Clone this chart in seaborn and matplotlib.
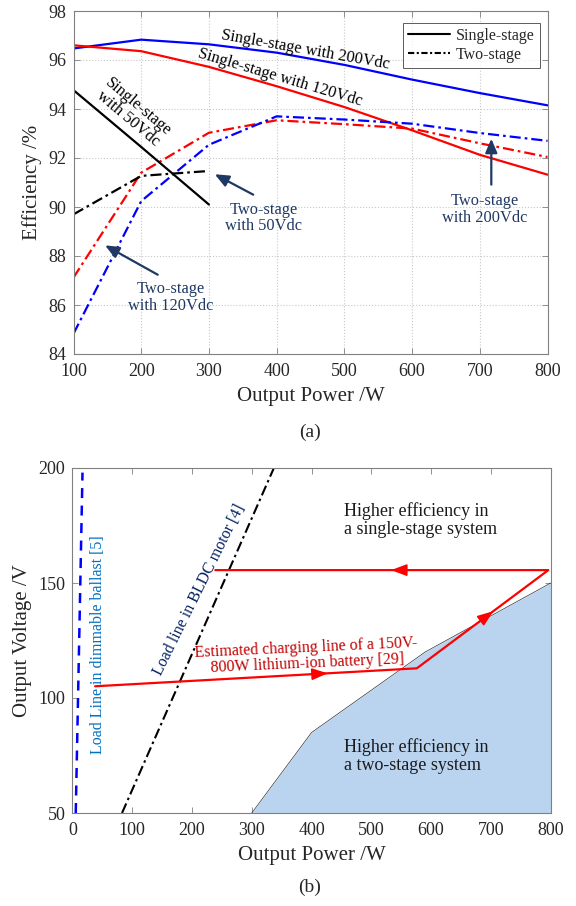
import numpy as np
import pandas as pd
import matplotlib
matplotlib.use('Agg')
import matplotlib.pyplot as plt
import seaborn as sns
from matplotlib.lines import Line2D

# ---------------- data (a) ----------------
power = [100, 200, 300, 400, 500, 600, 700, 800]
ss_200 = [96.47, 96.83, 96.64, 96.30, 95.80, 95.20, 94.65, 94.15]
ss_120 = [96.60, 96.36, 95.72, 94.93, 94.08, 93.13, 92.13, 91.32]
ts_120 = [87.12, 91.40, 93.03, 93.54, 93.38, 93.20, 92.60, 92.04]
ts_200 = [84.83, 90.24, 92.54, 93.70, 93.57, 93.40, 93.02, 92.70]
power_50 = [100, 200, 300]
ss_50 = [94.77, 92.45, 90.10]
ts_50 = [89.70, 91.27, 91.47]

x_ticks_a = [100, 200, 300, 400, 500, 600, 700, 800]
y_ticks_a = [84, 86, 88, 90, 92, 94, 96, 98]

# ---------------- data (b) ----------------
ballast_p = [5.6, 16.9]
ballast_v = [50, 198]
bldc_p = [83, 337]
bldc_v = [50, 200]
charge_p = [38, 576, 796, 239]
charge_v = [105.1, 112.9, 155.6, 155.6]
region_p = [300, 400, 590, 800]
region_v = [50, 85, 120, 150]

x_ticks_b = [0, 100, 200, 300, 400, 500, 600, 700, 800]
y_ticks_b = [50, 100, 150, 200]

sns.set_theme(style='ticks')
plt.rcParams['font.family'] = ['Liberation Serif', 'DejaVu Serif']

W, H = 576, 906
fig = plt.figure(figsize=(W / 100, H / 100), dpi=100)
ax1 = fig.add_axes([73.5 / W, 1 - 354 / H, 474 / W, 343 / H])
ax2 = fig.add_axes([72.4 / W, 1 - 813 / H, 478.3 / W, 345 / H])

SPINE = '#808080'
TXT = '#262626'
NAVY = '#1F3864'
DD = (0, (5, 1.8, 1.2, 1.8))

def style_axes(ax):
    for s in ax.spines.values():
        s.set_visible(True)
        s.set_color(SPINE)
        s.set_linewidth(0.8)
    ax.tick_params(direction='in', top=True, right=True, length=4, width=0.6,
                   color=SPINE, labelcolor=TXT, labelsize=13)
    ax.tick_params(axis='x', pad=6.5)
    ax.tick_params(axis='y', pad=5)

# ---------------- (a) ----------------
def line(ax, x, y, color, ls):
    df = pd.DataFrame({'x': x, 'y': y})
    sns.lineplot(data=df, x='x', y='y', ax=ax, color=color, lw=1.6,
                 linestyle=ls, estimator=None, sort=False, legend=False)

line(ax1, power, ss_200, '#0000FF', '-')
line(ax1, power, ss_120, '#FF0000', '-')
line(ax1, power, ts_120, '#FF0000', DD)
line(ax1, power, ts_200, '#0000FF', DD)
line(ax1, power_50, ss_50, 'black', '-')
line(ax1, power_50, ts_50, 'black', DD)

ax1.set_xlim(100, 800)
ax1.set_ylim(84, 98)
ax1.set_xticks(x_ticks_a)
ax1.set_yticks(y_ticks_a)
ax1.grid(True, linestyle=':', color='#c8c8c8', lw=0.8)
style_axes(ax1)
ax1.set_xlabel('Output Power /W', fontsize=15, color=TXT, labelpad=5)
ax1.set_ylabel('Efficiency /%', fontsize=15, color=TXT, labelpad=5)

handles = [Line2D([0], [0], color='black', lw=1.5, ls='-'),
           Line2D([0], [0], color='black', lw=1.5, ls=(0, (3, 1.2, 1, 1.2)))]
leg = ax1.legend(handles, ['Single-stage', 'Two-stage'], loc='upper right',
                 bbox_to_anchor=(0.99, 0.975), fontsize=11.5, frameon=True,
                 fancybox=False, edgecolor='#333333', handlelength=2.6,
                 borderpad=0.3, labelspacing=0.2, handletextpad=0.4,
                 borderaxespad=0.2)
leg.get_frame().set_linewidth(0.7)

fs_ann = 11.8
ax1.text(442, 96.41, 'Single-stage with 200Vdc', rotation=-10, fontsize=fs_ann,
         ha='center', va='center', rotation_mode='anchor', color='black')
ax1.text(405, 95.3, 'Single-stage with 120Vdc', rotation=-16.5, fontsize=fs_ann,
         ha='center', va='center', rotation_mode='anchor', color='black')
ax1.text(188, 93.85, 'Single-stage\nwith 50Vdc', rotation=-40, fontsize=fs_ann,
         ha='center', va='center', rotation_mode='anchor', color='black',
         linespacing=1.0)

arrow_kw = dict(arrowstyle='-|>,head_length=0.7,head_width=0.3', color=NAVY, lw=1.6)
ax1.annotate('', xy=(305, 91.39), xytext=(369, 90.45), arrowprops=arrow_kw)
ax1.text(381, 89.55, 'Two-stage\nwith 50Vdc', fontsize=fs_ann, ha='center',
         va='center', color=NAVY, linespacing=1.05)
ax1.annotate('', xy=(143, 88.49), xytext=(228, 87.18), arrowprops=arrow_kw)
ax1.text(243, 86.3, 'Two-stage\nwith 120Vdc', fontsize=fs_ann, ha='center',
         va='center', color=NAVY, linespacing=1.05)
ax1.annotate('', xy=(717, 92.9), xytext=(717, 90.8), arrowprops=arrow_kw)
ax1.text(707, 89.9, 'Two-stage\nwith 200Vdc', fontsize=fs_ann, ha='center',
         va='center', color=NAVY, linespacing=1.05)

# ---------------- (b) ----------------
ax2.fill_between(region_p, region_v, [50] * len(region_p), color='#BAD4F0',
                 lw=0, zorder=1)
ax2.plot(region_p, region_v, color='#333333', lw=0.5, zorder=2)

dfb = pd.DataFrame({'x': ballast_p, 'y': ballast_v})
sns.lineplot(data=dfb, x='x', y='y', ax=ax2, color='#0000FF', lw=1.8,
             linestyle=(0, (4, 3)), estimator=None, sort=False, legend=False)
dfm = pd.DataFrame({'x': bldc_p, 'y': bldc_v})
sns.lineplot(data=dfm, x='x', y='y', ax=ax2, color='black', lw=1.5,
             linestyle=DD, estimator=None, sort=False, legend=False)
dfc = pd.DataFrame({'x': charge_p, 'y': charge_v})
sns.lineplot(data=dfc, x='x', y='y', ax=ax2, color='#FF0000', lw=1.6,
             estimator=None, sort=False, legend=False)

red_kw = dict(arrowstyle='-|>,head_length=0.8,head_width=0.3', color='#FF0000',
              lw=1.2, shrinkA=0, shrinkB=0)

def seg_arrow(p0, p1, tipx):
    (x0, y0), (x1, y1) = p0, p1
    t = (tipx - x0) / (x1 - x0)
    ty = y0 + t * (y1 - y0)
    bx = x0 + (t - 0.05) * (x1 - x0)
    by = y0 + (t - 0.05) * (y1 - y0)
    ax2.annotate('', xy=(tipx, ty), xytext=(bx, by), arrowprops=red_kw)

pts = list(zip(charge_p, charge_v))
seg_arrow(pts[0], pts[1], 427)
seg_arrow(pts[1], pts[2], 704)
seg_arrow(pts[2], pts[3], 533)

ax2.set_xlim(0, 800)
ax2.set_ylim(50, 200)
ax2.set_xticks(x_ticks_b)
ax2.set_yticks(y_ticks_b)
ax2.grid(False)
style_axes(ax2)
ax2.set_xlabel('Output Power /W', fontsize=15, color=TXT, labelpad=5)
ax2.set_ylabel('Output Voltage /V', fontsize=15, color=TXT, labelpad=5)

ax2.text(42, 123.3, 'Load Line in dimmable ballast [5]', rotation=90, fontsize=11.5,
         ha='center', va='center', color='#0070C0')
ax2.text(213, 147.2, 'Load line in BLDC motor [4]', rotation=63.7, fontsize=11.5,
         ha='center', va='center', rotation_mode='anchor', color='#002060')
ax2.text(392, 118.3, 'Estimated charging line of a 150V-\n800W lithium-ion battery [29]',
         rotation=2.6, fontsize=11.5, ha='center', va='center',
         rotation_mode='anchor', color='#C00000', linespacing=1.0)
ax2.text(454, 177.4, 'Higher efficiency in\na single-stage system', fontsize=13,
         ha='left', va='center', color='#1a1a1a', linespacing=1.1)
ax2.text(454, 74.8, 'Higher efficiency in\na two-stage system', fontsize=13,
         ha='left', va='center', color='#1a1a1a', linespacing=1.1)

fig.text(310 / W, 1 - 432 / H, '(a)', fontsize=14, ha='center', va='center', color=TXT)
fig.text(310 / W, 1 - 887 / H, '(b)', fontsize=14, ha='center', va='center', color=TXT)

fig.savefig('out.png', dpi=100)
